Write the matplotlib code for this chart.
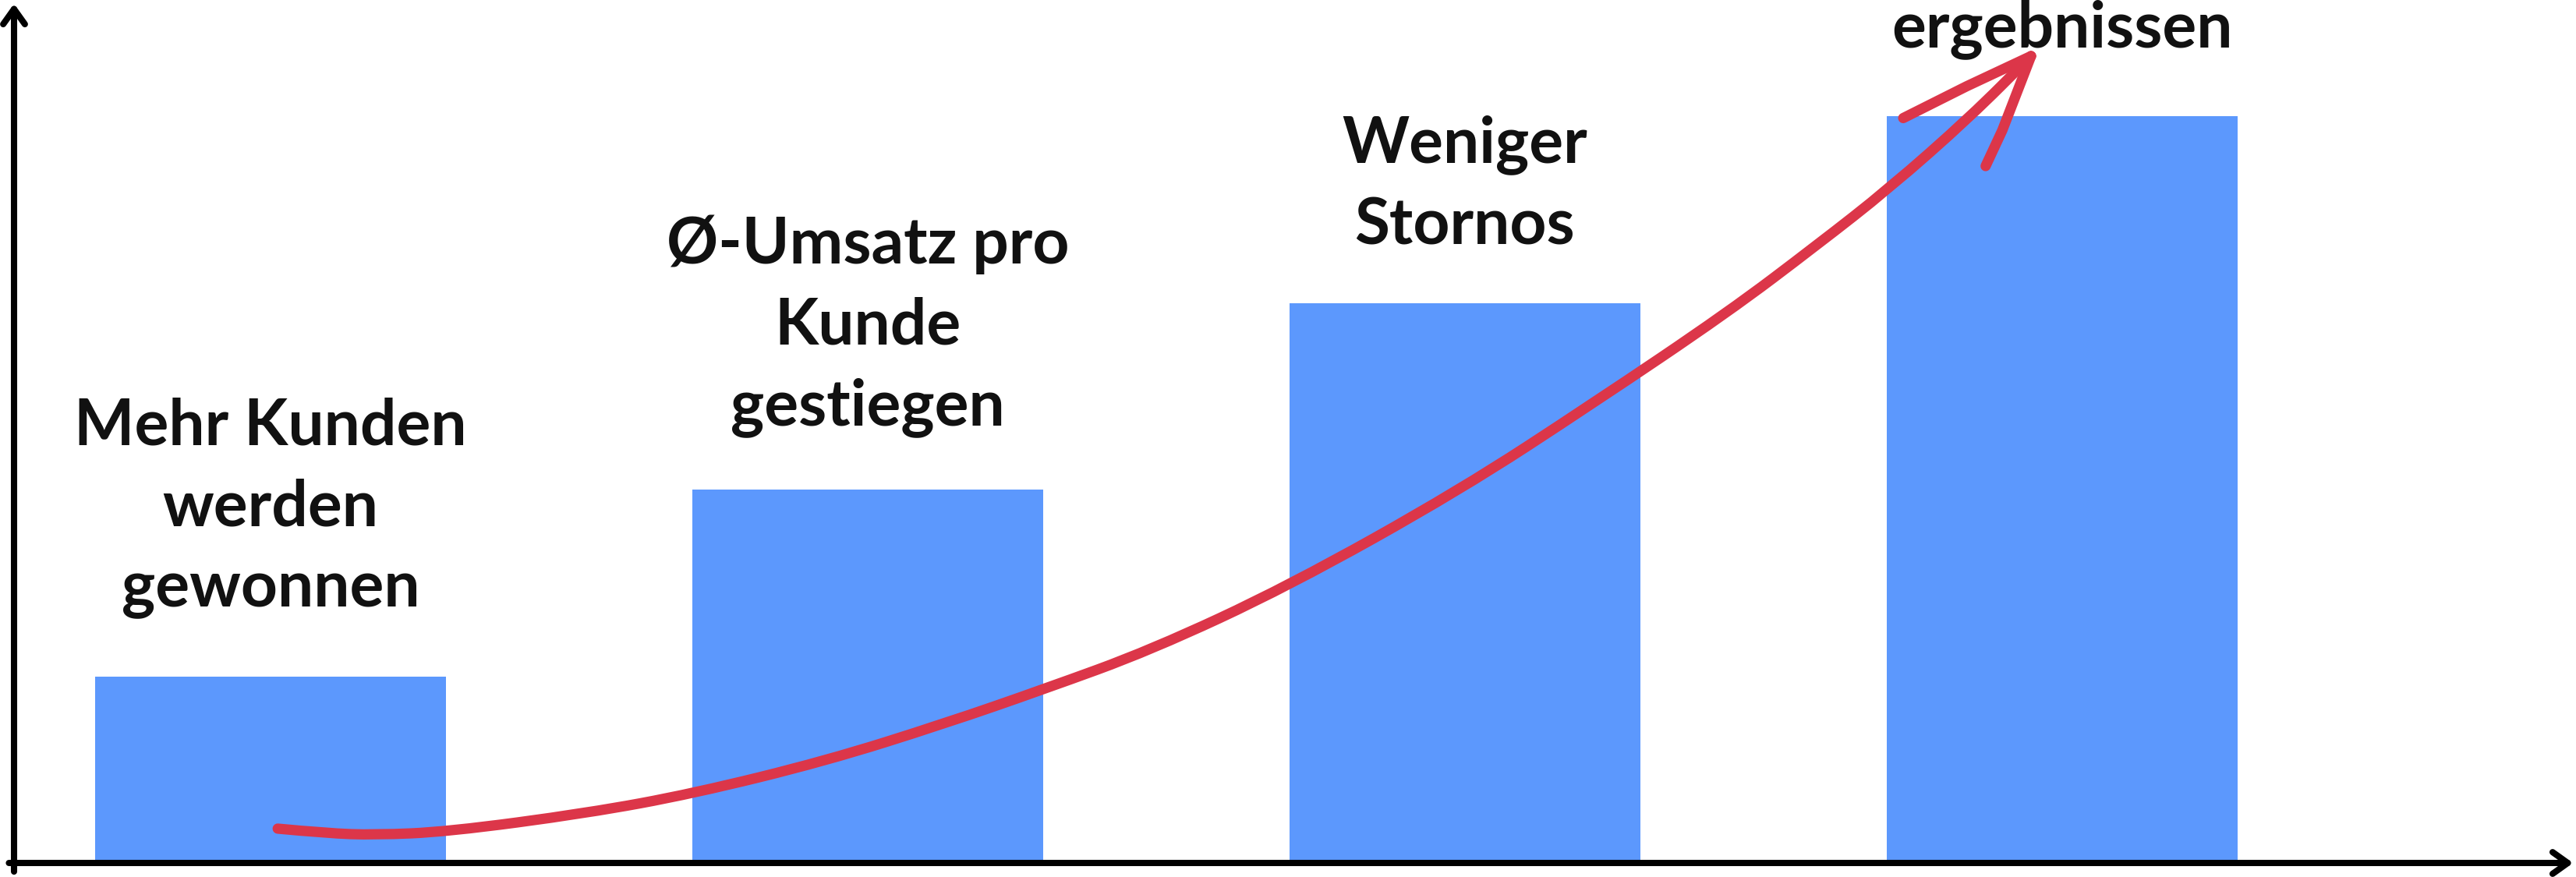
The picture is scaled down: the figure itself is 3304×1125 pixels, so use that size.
import numpy as np
import matplotlib.pyplot as plt
from matplotlib.path import Path
from matplotlib.patches import PathPatch

plt.rcParams['font.family'] = ['Lato', 'DejaVu Sans']

# bars: one step each, labelled above
labels = ["Mehr Kunden\nwerden\ngewonnen",
          "Ø-Umsatz pro\nKunde\ngestiegen",
          "Weniger\nStornos",
          "ergebnissen"]
values = [1, 2, 3, 4]
label_y = [1.90, 2.875, 3.63, 4.465]

# hand-drawn trend arrow, in data units
trend_x = [0.012, 0.095, 0.174, 0.296, 0.530, 0.708, 0.930, 1.129, 1.295,
           1.474, 1.704, 1.991, 2.215, 2.441, 2.590, 2.710, 2.846, 2.948]
trend_y = [0.184, 0.159, 0.150, 0.167, 0.267, 0.372, 0.547, 0.747, 0.931,
           1.140, 1.482, 1.996, 2.463, 2.951, 3.311, 3.612, 3.996, 4.322]
barb_left_x = [2.948, 2.840, 2.734]
barb_left_y = [4.322, 4.160, 3.990]
barb_right_x = [2.948, 2.900, 2.872]
barb_right_y = [4.322, 3.925, 3.733]

bar_color = '#5C98FD'
red = '#DC3649'
ink = '#111111'


def smooth_path(xs, ys):
    pts = np.column_stack([xs, ys])
    verts = [pts[0]]
    codes = [Path.MOVETO]
    for i in range(1, len(pts) - 1):
        mid = (pts[i] + pts[i + 1]) / 2
        verts += [pts[i], mid]
        codes += [Path.CURVE3, Path.CURVE3]
    verts.append(pts[-1])
    codes.append(Path.LINETO)
    return Path(verts, codes)


fig = plt.figure(figsize=(33.04, 11.25), dpi=100)
ax = fig.add_axes([18 / 3304, 18 / 1125, 3284 / 3304, 1104 / 1125])
ax.set_xlim(-0.4295, 3.858)
ax.set_ylim(0, 4.61)
ax.set_axis_off()

x = np.arange(len(values))
ax.bar(x, values, width=0.587, color=bar_color, zorder=2)

for xi, txt, ty in zip(x, labels, label_y):
    ax.text(xi, ty, txt, ha='center', va='center', fontsize=59,
            fontweight='bold', color=ink, linespacing=1.47, zorder=4)

ax.add_patch(PathPatch(smooth_path(trend_x, trend_y), fill=False,
                       edgecolor=red, lw=9.5, capstyle='round',
                       joinstyle='round', zorder=3))
for bx, by in [(barb_left_x, barb_left_y), (barb_right_x, barb_right_y)]:
    ax.plot(bx, by, color=red, lw=9.5, solid_capstyle='round', zorder=3)

# axis arrows
arrow = dict(arrowstyle='->, head_length=14, head_width=10',
             mutation_scale=1, lw=5.8, color='black',
             shrinkA=0, shrinkB=0, capstyle='round', joinstyle='round')
ax.annotate('', xy=(0, 0.9985), xytext=(0, -0.01),
            xycoords='axes fraction', arrowprops=arrow)
ax.annotate('', xy=(0.9995, 0), xytext=(-0.002, 0),
            xycoords='axes fraction', arrowprops=arrow)

fig.savefig('out.png', dpi=100, facecolor='white')
